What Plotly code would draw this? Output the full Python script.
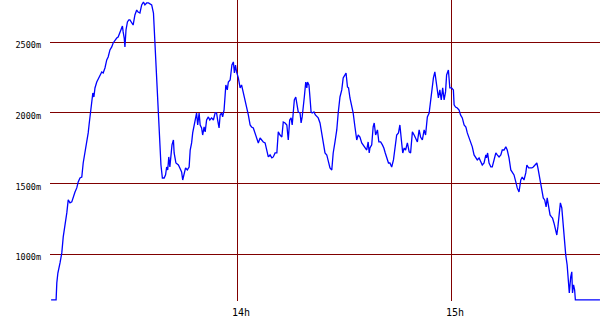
import plotly.graph_objects as go

# time in minutes after 13:00
minutes = [
    7.6, 9.0, 9.2, 9.5, 10.1, 10.6, 11.0, 11.5, 12.0, 12.4, 12.9, 13.4, 13.8, 14.3, 14.8, 15.2, 15.7, 16.2, 16.6, 17.1,
    17.6, 18.0, 18.3, 18.7, 19.0, 19.3, 19.6, 19.9, 20.4, 20.8, 21.3, 21.8, 22.2, 22.7, 23.2, 23.6, 24.1, 24.6, 25.0, 25.5,
    26.0, 26.4, 26.9, 27.2, 27.6, 27.8, 28.1, 28.3, 28.6, 29.0, 29.4,
    29.7, 30.6, 31.1, 31.6, 32.0, 32.5, 33.0, 33.5, 33.9, 34.4, 34.9, 35.3, 35.8, 36.3, 36.5, 36.8, 37.2, 37.5, 37.8, 38.1,
    38.4, 38.8, 39.3, 39.7, 40.0, 40.3, 40.6, 40.9, 41.2, 41.5, 41.9, 42.1, 42.6, 43.3, 43.7, 44.2, 44.5, 44.9, 45.3, 45.8,
    46.3, 46.6, 47.0, 47.3, 47.7, 48.0, 48.4, 48.7, 49.1, 49.4, 49.8, 50.1, 50.5, 50.8, 51.2, 51.7, 52.1,
    52.6, 53.1, 53.6, 54.0, 54.3, 54.7, 55.0, 55.4, 55.7, 56.1, 56.4, 56.6, 57.0, 57.3, 57.8, 58.0, 58.3, 58.7, 59.0, 59.3,
    59.6, 60.1, 60.6, 61.0, 61.5, 62.0, 62.4, 62.9, 63.4, 63.8, 64.3, 64.8, 65.2, 65.7, 66.2, 66.6, 67.1, 67.6, 68.0, 68.5,
    69.0, 69.5, 69.9, 70.4, 70.9, 71.3, 71.8, 72.3, 72.7, 73.2, 73.7, 74.1, 74.5,
    74.9, 75.2, 75.5, 75.8, 76.2, 76.5, 76.9, 77.4, 77.7, 78.0, 78.3, 78.6, 79.0, 79.3, 79.5, 79.9, 80.2, 80.5, 80.8, 81.3,
    81.7, 82.1, 82.5, 83.0, 83.5, 83.9, 84.4, 84.9, 85.3, 85.8, 86.3, 86.7, 87.2, 87.7, 88.1, 88.6, 89.1, 89.5, 90.0, 90.3,
    90.7, 91.0, 91.4, 91.9, 92.3, 92.8, 93.3, 93.7, 94.2, 94.7, 95.1, 95.6, 96.1, 96.5, 96.8,
    97.0, 97.5, 97.9, 98.2, 98.6, 99.1, 99.5, 100.0, 100.5, 100.9, 101.3, 101.7, 102.2, 102.6, 103.1, 103.6, 104.0, 104.5,
    105.0, 105.4, 105.9, 106.2, 106.6, 107.0, 107.5, 108.0, 108.4, 108.9, 109.4, 109.8, 110.3, 110.8, 111.2, 111.7, 112.2,
    112.6, 113.1, 113.6, 114.0, 114.4, 114.8, 115.2, 115.7, 116.2, 116.6, 117.0, 117.4, 117.8, 118.2, 118.5, 119.0, 119.4,
    119.9, 120.4, 120.6, 121.0, 121.5, 122.0, 122.4, 122.9, 123.4, 123.9, 124.3, 124.8, 125.2, 125.7, 126.2, 126.7, 127.1,
    127.6, 128.1, 128.5, 129.0, 129.5, 129.7, 130.0, 130.4, 130.9, 131.3, 131.8, 132.3, 132.7, 133.2, 133.7, 134.1, 134.6,
    135.1, 135.5, 136.0, 136.5, 136.9, 137.4, 137.9, 138.3, 138.8, 139.3, 139.7, 140.2, 140.7, 141.0, 141.5, 141.9,
    142.4, 142.8, 143.3, 143.8, 144.1, 144.5, 144.9, 145.2, 145.6, 146.0, 146.4, 146.7, 147.1, 147.5, 147.9, 148.2, 148.6,
    149.0, 149.4, 149.7, 150.1, 150.4, 150.8, 151.1, 151.5, 151.9, 152.3, 152.5, 152.9, 153.3, 153.6, 153.8, 154.1, 154.4,
    154.6, 161.5,
]

# altitude in metres
altitude = [
    678, 678, 798, 868, 939, 1010, 1123, 1194, 1293, 1385, 1364, 1371, 1406, 1441, 1470, 1512, 1540, 1547, 1646, 1717,
    1809, 1859, 1929, 2000, 2078, 2141, 2113, 2177, 2219, 2240, 2269, 2290, 2283, 2318, 2375, 2396, 2446, 2467, 2495, 2516,
    2530, 2537, 2573, 2601, 2615, 2573, 2530, 2467, 2587, 2644, 2658,
    2658, 2622, 2693, 2728, 2714, 2707, 2764, 2785, 2764, 2778, 2778, 2771, 2764, 2707, 2608, 2495, 2269, 2092, 1950, 1795,
    1632, 1540, 1540, 1562, 1618, 1597, 1689, 1618, 1717, 1774, 1809, 1717, 1646, 1632, 1611, 1583, 1526, 1576, 1611, 1597,
    1618, 1738, 1788, 1859, 1915, 1950, 2000, 1915, 2000, 1915, 1894, 1844, 1901, 1866, 1950, 1972, 1950,
    1965, 1950, 2000, 2000, 1950, 1894, 1986, 2000, 1972, 2021, 2127, 2198, 2163, 2219, 2233, 2283, 2339, 2361, 2283, 2339,
    2290, 2248, 2177, 2198, 2141, 2106, 2042, 1986, 1915, 1901, 1894, 1859, 1830, 1788, 1823, 1809, 1795, 1788, 1738, 1689,
    1703, 1682, 1689, 1717, 1717, 1866, 1844, 1830, 1936, 1929, 1915, 1809, 1950,
    1965, 1915, 2021, 2092, 2113, 2071, 2007, 2000, 1929, 1972, 2071, 2113, 2219, 2177, 2219, 2198, 2106, 2007, 2000, 2007,
    1986, 1972, 1965, 1929, 1859, 1788, 1717, 1703, 1653, 1611, 1597, 1717, 1795, 1880, 2000, 2113, 2163, 2248, 2269, 2283,
    2184, 2177, 2106, 2042, 2000, 1901, 1809, 1844, 1830, 1788, 1774, 1752, 1738, 1795, 1717,
    1752, 1774, 1901, 1929, 1844, 1880, 1795, 1795, 1774, 1752, 1717, 1689, 1646, 1646, 1618, 1668, 1760, 1844,
    1859, 1915, 1788, 1717, 1752, 1738, 1788, 1724, 1717, 1866, 1844, 1823, 1795, 1880, 1830, 1809, 1880,
    1844, 1972, 2000, 2092, 2184, 2248, 2290, 2184, 2106, 2163, 2092, 2177, 2092, 2149, 2269, 2304, 2177,
    2177, 2163, 2057, 2042, 2035, 2021, 1986, 1965, 1915, 1901, 1859, 1823, 1788, 1760, 1703, 1682, 1668,
    1682, 1653, 1632, 1646, 1703, 1682, 1717, 1646, 1618, 1618, 1668, 1717, 1703, 1689, 1703, 1738, 1738,
    1760, 1738, 1682, 1597, 1583, 1562, 1512, 1470, 1441, 1526, 1547, 1526, 1576, 1632, 1611, 1611,
    1611, 1618, 1632, 1646, 1611, 1547, 1491, 1434, 1399, 1385, 1335, 1399, 1328, 1279, 1265, 1257, 1222,
    1173, 1137, 1194, 1293, 1364, 1328, 1229, 1102, 996, 925, 840, 727, 840, 876, 727, 784, 748,
    678, 678,
]

hour_ticks = [60, 120]
hour_labels = ["14h", "15h"]
alt_ticks = [1000, 1500, 2000, 2500]
alt_labels = ["1000m", "1500m", "2000m", "2500m"]

grid_color = "#800000"

fig = go.Figure()
fig.add_trace(go.Scatter(
    x=minutes, y=altitude, mode="lines",
    line=dict(color="#0000ff", width=1.3),
    hoverinfo="skip", showlegend=False,
))

fig.update_layout(
    width=600, height=330,
    margin=dict(l=50, r=0, t=0, b=29),
    paper_bgcolor="white", plot_bgcolor="white",
    showlegend=False,
)
fig.update_xaxes(
    range=[7.29, 161.51],
    tickvals=hour_ticks, ticktext=hour_labels,
    showgrid=True, gridcolor=grid_color, gridwidth=1,
    zeroline=False, showline=False, ticks="",
    tickfont=dict(family="DejaVu Sans Mono", size=10, color="black"),
    ticklabelstandoff=4, ticklabelshift=3,
    fixedrange=True,
)
fig.update_yaxes(
    range=[670, 2799],
    tickvals=alt_ticks, ticktext=alt_labels,
    showgrid=True, gridcolor=grid_color, gridwidth=1,
    zeroline=False, showline=False, ticks="",
    tickfont=dict(family="DejaVu Sans Mono", size=8.5, color="black"),
    ticklabelstandoff=8, ticklabelshift=3,
    fixedrange=True,
)

fig.write_html("out.html", config={"displayModeBar": False})
